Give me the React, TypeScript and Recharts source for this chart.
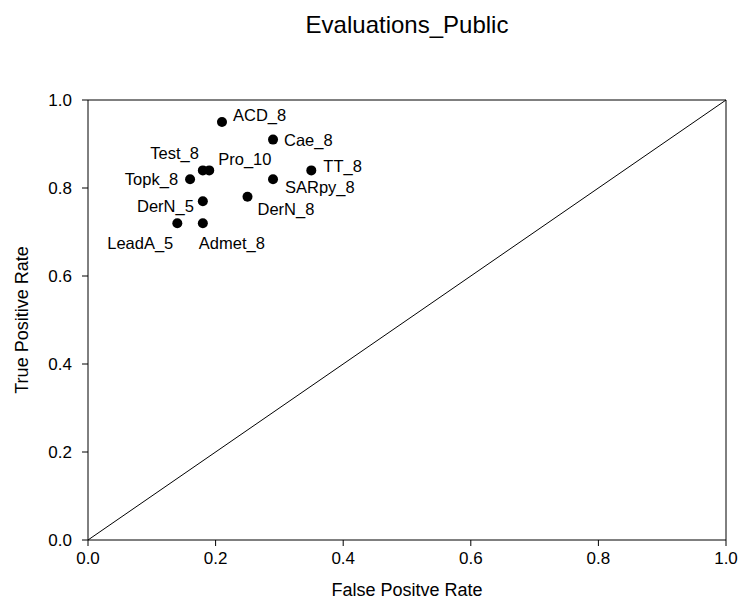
import React from 'react';
import { ScatterChart, Scatter, XAxis, YAxis, ReferenceLine, LabelList } from 'recharts';

const names = ['ACD_8', 'Cae_8', 'Test_8', 'Pro_10', 'TT_8', 'Topk_8', 'SARpy_8', 'DerN_5', 'DerN_8', 'LeadA_5', 'Admet_8'];
const fpr = [0.21, 0.29, 0.18, 0.19, 0.35, 0.16, 0.29, 0.18, 0.25, 0.14, 0.18];
const tpr = [0.95, 0.91, 0.84, 0.84, 0.84, 0.82, 0.82, 0.77, 0.78, 0.72, 0.72];
const ticks = [0, 0.2, 0.4, 0.6, 0.8, 1.0];

// where each label sits relative to its dot
const labelPos: Record<string, { dx: number; dy: number; anchor: string }> = {
  ACD_8: { dx: 11, dy: -7, anchor: 'start' },
  Cae_8: { dx: 11, dy: 0, anchor: 'start' },
  Test_8: { dx: -4, dy: -17, anchor: 'end' },
  Pro_10: { dx: 9, dy: -11, anchor: 'start' },
  TT_8: { dx: 12, dy: -4, anchor: 'start' },
  Topk_8: { dx: -12, dy: 0, anchor: 'end' },
  SARpy_8: { dx: 12, dy: 8, anchor: 'start' },
  DerN_5: { dx: -9, dy: 5, anchor: 'end' },
  DerN_8: { dx: 10, dy: 12, anchor: 'start' },
  LeadA_5: { dx: -4, dy: 20, anchor: 'end' },
  Admet_8: { dx: -4, dy: 20, anchor: 'start' },
};

const data = names.map((name, i) => ({ name, fpr: fpr[i], tpr: tpr[i] }));

const font = '"Liberation Sans", Arial, sans-serif';

const Dot = (props: any) => <circle cx={props.cx} cy={props.cy} r={5} fill="#000" />;

const PointLabel = (props: any) => {
  const { x, y, width, height, value } = props;
  const p = labelPos[value] || { dx: 8, dy: 0, anchor: 'start' };
  const cx = x + (width || 0) / 2;
  const cy = y + (height || 0) / 2;
  // baseline placed so the cap height is centred on cy + dy
  return (
    <text x={cx + p.dx} y={cy + p.dy + 6} textAnchor={p.anchor} fontSize={16.5} fontFamily={font} fill="#000">
      {value}
    </text>
  );
};

export default function App() {
  return (
    <div style={{ position: 'absolute', left: 0, top: 0, width: 740, height: 612, background: '#fff' }}>
      <ScatterChart width={740} height={612} margin={{ top: 100, right: 14, bottom: 0, left: 28 }}>
        <text x={407} y={33} textAnchor="middle" fontSize={24} fontFamily={font} fill="#000">
          Evaluations_Public
        </text>
        <text x={407} y={596} textAnchor="middle" fontSize={18} fontFamily={font} fill="#000">
          False Positve Rate
        </text>
        <text x={28} y={320} transform="rotate(-90 28 320)" textAnchor="middle" fontSize={18} fontFamily={font} fill="#000">
          True Positive Rate
        </text>
        <XAxis
          type="number"
          dataKey="fpr"
          domain={[0, 1]}
          ticks={ticks}
          tickFormatter={(v: number) => v.toFixed(1)}
          height={72}
          stroke="#000"
          tickSize={6}
          tickMargin={6}
          tick={{ fill: '#000', fontSize: 17, fontFamily: font }}
        />
        <YAxis
          type="number"
          dataKey="tpr"
          domain={[0, 1]}
          ticks={ticks}
          tickFormatter={(v: number) => v.toFixed(1)}
          width={60}
          stroke="#000"
          tickSize={6}
          tickMargin={10}
          tick={{ fill: '#000', fontSize: 17, fontFamily: font }}
        />
        <ReferenceLine y={1} stroke="#000" />
        <ReferenceLine x={1} stroke="#000" />
        <ReferenceLine segment={[{ x: 0, y: 0 }, { x: 1, y: 1 }]} stroke="#000" strokeWidth={1} />
        <Scatter data={data} shape={<Dot />} isAnimationActive={false}>
          <LabelList dataKey="name" content={<PointLabel />} />
        </Scatter>
      </ScatterChart>
    </div>
  );
}
